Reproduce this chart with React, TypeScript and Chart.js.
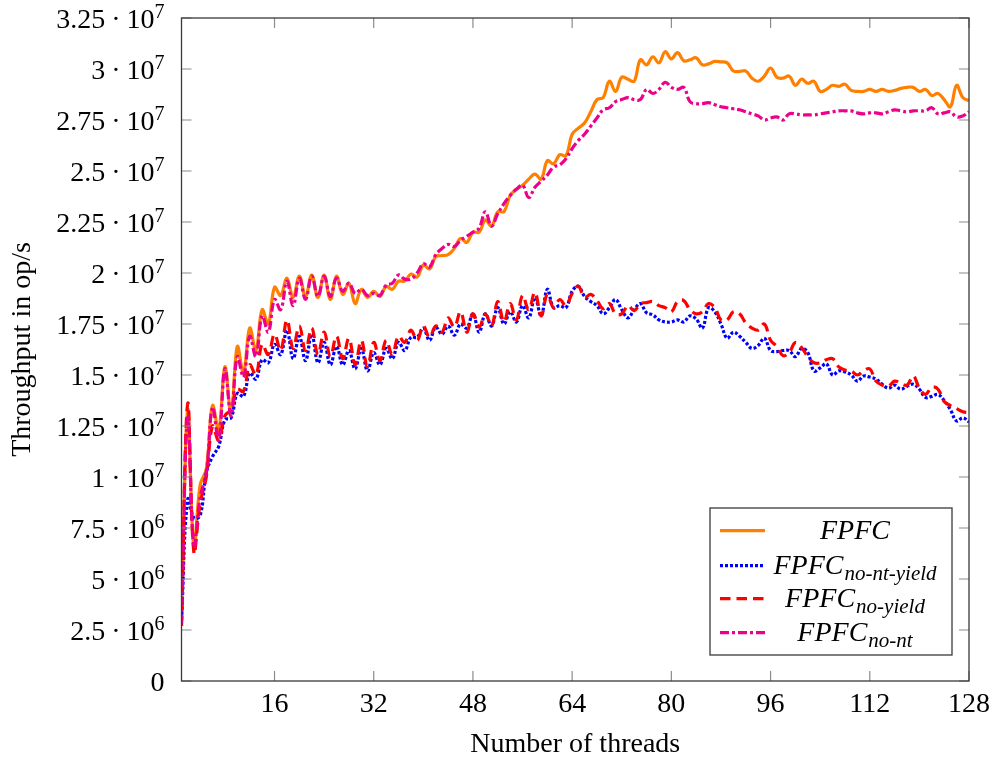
import React, { useEffect, useRef } from 'react';
import { Chart, registerables } from 'chart.js';
Chart.register(...registerables);

const SCALE = 1e6;
const threads: number[] = Array.from({ length: 128 }, (_, i) => i + 1);

const fpfc = [
  3.0, 13.3, 6.5, 9.6, 10.4, 13.5, 12.3, 15.4, 13.1, 16.4,
  15.1, 17.3, 16.2, 18.2, 17.5, 19.3, 18.9, 19.75, 18.8, 19.85,
  18.85, 19.9, 18.8, 19.9, 18.7, 19.85, 18.95, 19.5, 18.5, 19.2,
  18.8, 19.1, 18.85, 19.35, 19.2, 19.6, 19.6, 19.95, 19.8, 20.4,
  20.2, 20.8, 20.85, 20.9, 21.2, 21.7, 21.5, 22.0, 22.0, 22.6,
  22.3, 23.0, 23.0, 23.8, 24.1, 24.3, 24.6, 24.85, 24.6, 25.5,
  25.35, 25.8, 25.75, 26.8, 27.1, 27.35, 27.9, 28.5, 28.6, 29.4,
  28.9, 29.6, 29.5, 29.4, 30.45, 30.2, 30.6, 30.3, 30.85, 30.5,
  30.8, 30.4, 30.45, 30.55, 30.2, 30.25, 30.37, 30.35, 30.3, 29.9,
  29.88, 29.9, 29.55, 29.4, 29.65, 30.05, 29.6, 29.55, 29.65, 29.2,
  29.5, 29.3, 29.4, 28.9, 29.0, 29.2, 29.15, 29.25, 28.95, 28.9,
  28.9, 29.0, 28.9, 29.0, 28.9, 28.95, 29.05, 29.1, 29.1, 28.9,
  29.0, 28.7, 28.8, 28.5, 28.15, 29.2, 28.6, 28.45,
];

const fpfcNoNtYield = [
  3.0, 8.9, 8.0, 8.1, 10.2, 11.0, 11.5, 12.8, 12.9, 14.1,
  13.95, 15.1, 14.8, 15.75, 15.6, 16.5, 16.0, 17.2, 15.8, 16.9,
  15.7, 17.0, 15.6, 16.6, 15.5, 16.4, 15.5, 16.2, 15.3, 16.3,
  15.2, 16.1, 15.5, 16.3, 15.8, 16.6, 16.2, 16.85, 16.85, 17.3,
  16.7, 17.35, 17.0, 17.4, 16.95, 17.5, 17.3, 18.0, 17.1, 18.0,
  17.4, 18.3, 17.5, 18.1, 17.6, 18.4, 17.8, 18.8, 17.9, 19.2,
  18.3, 18.4, 18.3, 19.1, 19.35, 18.85, 18.6, 18.4, 18.0, 18.3,
  18.7, 18.2, 17.8, 18.2, 18.5, 18.05, 17.95, 17.7, 17.6, 17.6,
  17.7, 17.6, 17.9, 17.75, 17.3, 18.3, 18.1, 17.5, 16.8, 17.1,
  16.9, 16.6, 16.3, 16.45, 16.8, 16.2, 16.15, 16.2, 16.2, 15.9,
  16.3, 16.1, 15.2, 15.35, 15.55, 15.0, 15.2, 15.15, 15.0, 14.7,
  14.95, 14.9, 14.8, 14.55, 14.35, 14.5, 14.3, 14.45, 14.55, 14.3,
  13.9, 13.95, 14.05, 13.75, 13.3, 12.75, 12.9, 12.7,
];

const fpfcNoYield = [
  2.7, 13.6, 6.3, 8.7, 10.0, 12.5, 11.8, 13.0, 13.3, 14.3,
  14.2, 15.5, 15.0, 16.5, 16.0, 17.0, 16.2, 17.7, 16.3, 17.4,
  16.2, 17.3, 16.0, 17.1, 15.9, 16.9, 15.8, 16.8, 15.5, 16.7,
  15.4, 16.6, 15.7, 16.7, 16.0, 16.9, 16.6, 17.2, 16.7, 17.4,
  16.85, 17.4, 17.1, 17.8, 17.35, 18.1, 17.1, 18.0, 17.35, 18.0,
  17.4, 18.6, 17.6, 18.5, 17.7, 18.9, 18.2, 19.05, 17.9, 18.95,
  18.3, 18.7, 18.4, 19.0, 19.35, 18.8, 18.95, 18.65, 18.25, 18.5,
  18.0, 18.0, 18.4, 18.15, 18.5, 18.55, 18.6, 18.4, 18.3, 18.1,
  18.6, 18.65, 18.2, 18.0, 18.1, 18.5, 18.3, 17.7, 17.7, 18.1,
  18.0, 17.55, 17.3, 17.2, 17.5, 16.7, 16.4, 15.95, 16.1, 16.6,
  16.35, 15.9, 15.6, 15.6, 15.75, 15.8, 15.4, 15.25, 15.2, 15.0,
  15.2, 15.3, 14.7, 14.5, 14.45, 14.7, 14.6, 14.5, 14.95, 14.35,
  14.05, 14.4, 14.3, 13.7, 13.5, 13.35, 13.2, 13.15,
];

const fpfcNoNt = [
  2.8, 13.0, 6.6, 9.0, 10.2, 13.4, 11.8, 15.3, 13.0, 15.9,
  14.9, 16.9, 15.9, 17.9, 17.1, 18.7, 18.2, 19.6, 18.4, 19.75,
  18.7, 19.85, 18.85, 19.85, 18.85, 19.75, 19.1, 19.5, 19.0, 19.2,
  18.9, 19.0, 18.9, 19.4, 19.5, 19.9, 19.7, 19.7, 20.0, 20.45,
  20.3, 20.9, 21.2, 21.4, 21.3, 21.6, 21.8, 22.0, 22.2, 23.0,
  22.3, 22.9, 23.4, 23.8, 24.1, 24.3, 23.7, 24.2, 24.5, 24.8,
  25.2, 25.3, 25.6, 26.1, 26.5, 26.8, 27.2, 27.6, 28.0, 28.1,
  28.4, 28.5, 28.6, 28.5, 28.5, 29.0, 28.8, 29.0, 29.35, 29.1,
  29.0, 29.1, 28.4, 28.3, 28.3, 28.35, 28.25, 28.15, 28.1, 28.05,
  28.0, 27.9, 27.8, 27.7, 27.5, 27.6, 27.65, 27.5, 27.8, 27.8,
  27.75, 27.75, 27.75, 27.8, 27.85, 27.9, 27.95, 27.95, 27.95, 27.85,
  27.8, 27.85, 27.85, 27.8, 27.9, 28.0, 27.95, 27.9, 27.95, 27.95,
  27.95, 28.1, 27.8, 27.85, 27.9, 27.65, 27.7, 27.9,
];

const xTicks = [16, 32, 48, 64, 80, 96, 112, 128];
const yTicks = [0, 2.5e6, 5e6, 7.5e6, 1e7, 1.25e7, 1.5e7, 1.75e7, 2e7, 2.25e7, 2.5e7, 2.75e7, 3e7, 3.25e7];
const xTitle = 'Number of threads';
const yTitle = 'Throughput in op/s';
const legendMain = 'FPFC';
const legendSubs = ['', 'no-nt-yield', 'no-yield', 'no-nt'];

const COLORS = ['#FF8000', '#0000FF', '#FF0000', '#EC008C'];
const DASHES: number[][] = [[], [3, 2], [10.5, 6], [9, 3, 3, 3]];
const SERIF = '"Liberation Serif", "Times New Roman", serif';

function sciParts(v: number): [string, string | null] {
  if (v === 0) return ['0', null];
  const e = Math.floor(Math.log10(v) + 1e-9);
  const m = +(v / Math.pow(10, e)).toFixed(2);
  return [String(m), String(e)];
}

const overlay = {
  id: 'overlay',
  afterDraw(chart: any) {
    const ctx: CanvasRenderingContext2D = chart.ctx;
    const { left, right, top, bottom } = chart.chartArea;
    const xs = chart.scales.x;
    const ys = chart.scales.y;
    const TL = 10;
    ctx.save();
    // tick marks
    ctx.strokeStyle = '#8c8c8c';
    ctx.lineWidth = 1.2;
    ctx.beginPath();
    for (const v of xTicks) {
      const px = xs.getPixelForValue(v);
      ctx.moveTo(px, bottom); ctx.lineTo(px, bottom - TL);
      ctx.moveTo(px, top); ctx.lineTo(px, top + TL);
    }
    for (const v of yTicks) {
      const py = ys.getPixelForValue(v);
      ctx.moveTo(left, py); ctx.lineTo(left + TL, py);
      ctx.moveTo(right, py); ctx.lineTo(right - TL, py);
    }
    ctx.stroke();
    // frame
    ctx.strokeStyle = '#3a3a3a';
    ctx.lineWidth = 1.3;
    ctx.strokeRect(left, top, right - left, bottom - top);

    ctx.fillStyle = '#000';
    // x tick labels
    ctx.font = `28px ${SERIF}`;
    ctx.textAlign = 'center';
    ctx.textBaseline = 'alphabetic';
    for (const v of xTicks) {
      ctx.fillText(String(v), xs.getPixelForValue(v), bottom + 31);
    }
    // y tick labels
    const xr = left - 17;
    for (const v of yTicks) {
      const py = ys.getPixelForValue(v);
      const base = py + 10;
      const [m, e] = sciParts(v);
      ctx.textAlign = 'left';
      if (e === null) {
        ctx.font = `28px ${SERIF}`;
        const w = ctx.measureText(m).width;
        ctx.fillText(m, xr - w, base);
        continue;
      }
      ctx.font = `20px ${SERIF}`;
      const wSup = ctx.measureText(e).width;
      let x = xr - wSup;
      ctx.fillText(e, x, base - 10.5);
      ctx.font = `28px ${SERIF}`;
      const w10 = ctx.measureText('10').width;
      x -= w10;
      ctx.fillText('10', x, base);
      const wDot = ctx.measureText('\u00B7').width;
      x -= 6 + wDot;
      ctx.fillText('\u00B7', x, base);
      const wM = ctx.measureText(m).width;
      x -= 6 + wM;
      ctx.fillText(m, x, base);
    }
    // axis titles
    ctx.font = `28px ${SERIF}`;
    ctx.textAlign = 'center';
    ctx.fillText(xTitle, (left + right) / 2, 752);
    ctx.save();
    ctx.translate(30, (top + bottom) / 2);
    ctx.rotate(-Math.PI / 2);
    ctx.fillText(yTitle, 0, 0);
    ctx.restore();

    // legend
    const bx0 = 710, by0 = 508, bx1 = 952, by1 = 655;
    ctx.fillStyle = '#fff';
    ctx.fillRect(bx0, by0, bx1 - bx0, by1 - by0);
    ctx.strokeStyle = '#3a3a3a';
    ctx.lineWidth = 1.3;
    ctx.strokeRect(bx0, by0, bx1 - bx0, by1 - by0);
    const rowY = [530.7, 565.7, 598.7, 632.7];
    chart.data.datasets.forEach((ds: any, i: number) => {
      const y = rowY[i];
      ctx.save();
      ctx.strokeStyle = ds.borderColor;
      ctx.lineWidth = ds.borderWidth;
      ctx.setLineDash(ds.borderDash || []);
      ctx.beginPath();
      ctx.moveTo(720, y);
      ctx.lineTo(765, y);
      ctx.stroke();
      ctx.restore();
      ctx.fillStyle = '#000';
      ctx.textAlign = 'left';
      ctx.font = `italic 28px ${SERIF}`;
      const wMain = ctx.measureText(legendMain).width;
      ctx.font = `italic 21px ${SERIF}`;
      const sub = legendSubs[i];
      const wSub = sub ? ctx.measureText(sub).width + 1 : 0;
      const x0 = 855 - (wMain + wSub) / 2;
      ctx.font = `italic 28px ${SERIF}`;
      ctx.fillText(legendMain, x0, y + 8);
      if (sub) {
        ctx.font = `italic 21px ${SERIF}`;
        ctx.fillText(sub, x0 + wMain + 1, y + 14);
      }
    });
    ctx.restore();
  },
};

export default function App() {
  const ref = useRef<HTMLCanvasElement>(null);
  useEffect(() => {
    const series = [fpfc, fpfcNoNtYield, fpfcNoYield, fpfcNoNt];
    const names = ['FPFC', 'FPFC no-nt-yield', 'FPFC no-yield', 'FPFC no-nt'];
    const orders = [4, 3, 2, 1];
    const chart = new Chart(ref.current as HTMLCanvasElement, {
      type: 'line',
      data: {
        datasets: series.map((s, i) => ({
          label: names[i],
          data: s.map((v, k) => ({ x: threads[k], y: v * SCALE })),
          borderColor: COLORS[i],
          backgroundColor: COLORS[i],
          borderWidth: 3.2,
          borderDash: DASHES[i],
          pointRadius: 0,
          tension: 0.4,
          fill: false,
          order: orders[i],
        })),
      },
      options: {
        responsive: false,
        devicePixelRatio: 1,
        animation: false,
        layout: { padding: { left: 0, top: 18, right: 24, bottom: 0 } },
        plugins: { legend: { display: false }, tooltip: { enabled: false } },
        scales: {
          x: {
            type: 'linear',
            min: 1,
            max: 128,
            ticks: { display: false },
            grid: { display: false },
            border: { display: false },
            afterFit: (s: any) => { s.height = 77; },
          },
          y: {
            type: 'linear',
            min: 0,
            max: 3.25e7,
            ticks: { display: false },
            grid: { display: false },
            border: { display: false },
            afterFit: (s: any) => { s.width = 181.5; },
          },
        },
      } as any,
      plugins: [overlay],
    });
    return () => chart.destroy();
  }, []);
  return (
    <div style={{ position: 'fixed', left: 0, top: 0, width: 993, height: 758, background: '#fff' }}>
      <canvas ref={ref} width={993} height={758} style={{ display: 'block', width: 993, height: 758 }} />
    </div>
  );
}
